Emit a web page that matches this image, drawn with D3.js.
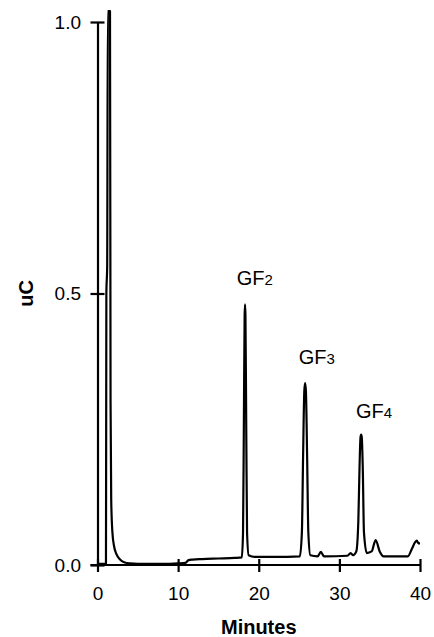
<!DOCTYPE html>
<html>
<head>
<meta charset="utf-8">
<script src="https://cdn.jsdelivr.net/npm/d3@7"></script>
<style>
  html, body { margin: 0; padding: 0; background: #fff; }
  svg { display: block; }
  text { font-family: "Liberation Sans", Arial, sans-serif; fill: #000; }
</style>
</head>
<body>
<svg id="chart" width="434" height="637"></svg>
<script>
// ---- data ----
const traceTime = [0, 1.05, 1.1, 1.2, 1.28, 1.55, 1.62, 1.7, 1.85, 2.05, 2.35, 2.8, 3.3, 4, 6, 8, 10, 10.9, 11.3, 11.8, 13, 15, 17, 17.9,
  18.05, 18.15, 18.25, 18.3, 18.35, 18.45, 18.55, 18.75, 19.5, 22, 25.1,
  25.35, 25.5, 25.65, 25.75, 25.85, 26.0, 26.15, 26.4, 27.3, 27.7, 28.1, 31, 31.4, 31.7, 32.1,
  32.35, 32.5, 32.62, 32.7, 32.78, 32.9, 33.05, 33.4, 34.0, 34.5, 35.0, 35.5, 38.5, 39.0, 39.4, 39.6, 39.8, 40];
const traceValue = [0.002, 0.002, 0.5, 0.55, 1.02, 1.02, 0.3, 0.12, 0.06, 0.035, 0.02, 0.01, 0.005, 0.003, 0.002, 0.002, 0.003, 0.004, 0.009, 0.01, 0.011, 0.012, 0.013, 0.014,
  0.06, 0.25, 0.46, 0.48, 0.46, 0.25, 0.06, 0.018, 0.015, 0.015, 0.016,
  0.06, 0.2, 0.32, 0.335, 0.32, 0.2, 0.06, 0.018, 0.016, 0.024, 0.016, 0.017, 0.022, 0.018, 0.025,
  0.08, 0.18, 0.235, 0.24, 0.235, 0.18, 0.06, 0.022, 0.025, 0.046, 0.025, 0.016, 0.016, 0.03, 0.042, 0.045, 0.04, 0.04];

const peakNames = ["GF", "GF", "GF"];
const peakSubs = ["2", "3", "4"];
const peakLabelTime = [19.5, 27.2, 34.3];
const peakLabelValue = [0.516, 0.37, 0.271];

const xTicks = [0, 10, 20, 30, 40];
const yTicks = [0.0, 0.5, 1.0];
const xTitle = "Minutes";
const yTitle = "uC";

// ---- layout ----
const svg = d3.select("#chart");
const x = d3.scaleLinear().domain([0, 40]).range([97.5, 420]);
const y = d3.scaleLinear().domain([0, 1]).range([565, 22]);

const FONT = 19;
const SW = 2.2;

// axes
const xAxis = d3.axisBottom(x).tickValues(xTicks).tickFormat(d3.format("d"))
  .tickSizeInner(6).tickSizeOuter(0).tickPadding(14);
const gx = svg.append("g").attr("transform", `translate(0,${y(0)})`).call(xAxis);
gx.select(".domain").attr("stroke", "#000").attr("stroke-width", SW);
gx.selectAll(".tick line").attr("y1", -6).attr("y2", 7).attr("stroke", "#000").attr("stroke-width", SW);
gx.selectAll(".tick text").attr("font-size", FONT).attr("font-family", "Liberation Sans, Arial, sans-serif").attr("dy", "0.71em").attr("y", 22);

const yAxis = d3.axisLeft(y).tickValues(yTicks).tickFormat(d3.format(".1f"))
  .tickSizeInner(7).tickSizeOuter(0).tickPadding(9);
const gy = svg.append("g").attr("transform", `translate(${x(0)},0)`).call(yAxis);
gy.select(".domain").attr("stroke", "#000").attr("stroke-width", SW);
gy.selectAll(".tick line").attr("x1", -7).attr("x2", 7).attr("stroke", "#000").attr("stroke-width", SW);
gy.selectAll(".tick text").attr("font-size", FONT).attr("font-family", "Liberation Sans, Arial, sans-serif").attr("x", -16.5);
// extend x-axis domain leftwards a little to meet y tick
gx.select(".domain").attr("d", `M${x(0) - 7},0H${x(40)}`);

// trace
const pts = traceTime.map((t, i) => [t, traceValue[i]]);
const line = d3.line().x(d => x(d[0])).y(d => y(d[1])).curve(d3.curveMonotoneX);
svg.append("path").datum(pts)
  .attr("d", line)
  .attr("fill", "none")
  .attr("stroke", "#000")
  .attr("stroke-width", SW)
  .attr("stroke-linejoin", "round");

// peak labels
peakNames.forEach((n, i) => {
  const t = svg.append("text")
    .attr("x", x(peakLabelTime[i]))
    .attr("y", y(peakLabelValue[i]))
    .attr("text-anchor", "middle")
    .attr("font-size", 20);
  t.append("tspan").text(n);
  t.append("tspan").attr("font-size", 15).text(peakSubs[i]);
});

// axis titles
svg.append("text")
  .attr("x", x(20)).attr("y", 634)
  .attr("text-anchor", "middle")
  .attr("font-size", 20).attr("font-weight", "bold")
  .text(xTitle);

svg.append("text")
  .attr("transform", `translate(33,${y(0.5)}) rotate(-90)`)
  .attr("text-anchor", "middle")
  .attr("font-size", 20).attr("font-weight", "bold")
  .text(yTitle);
</script>
</body>
</html>
